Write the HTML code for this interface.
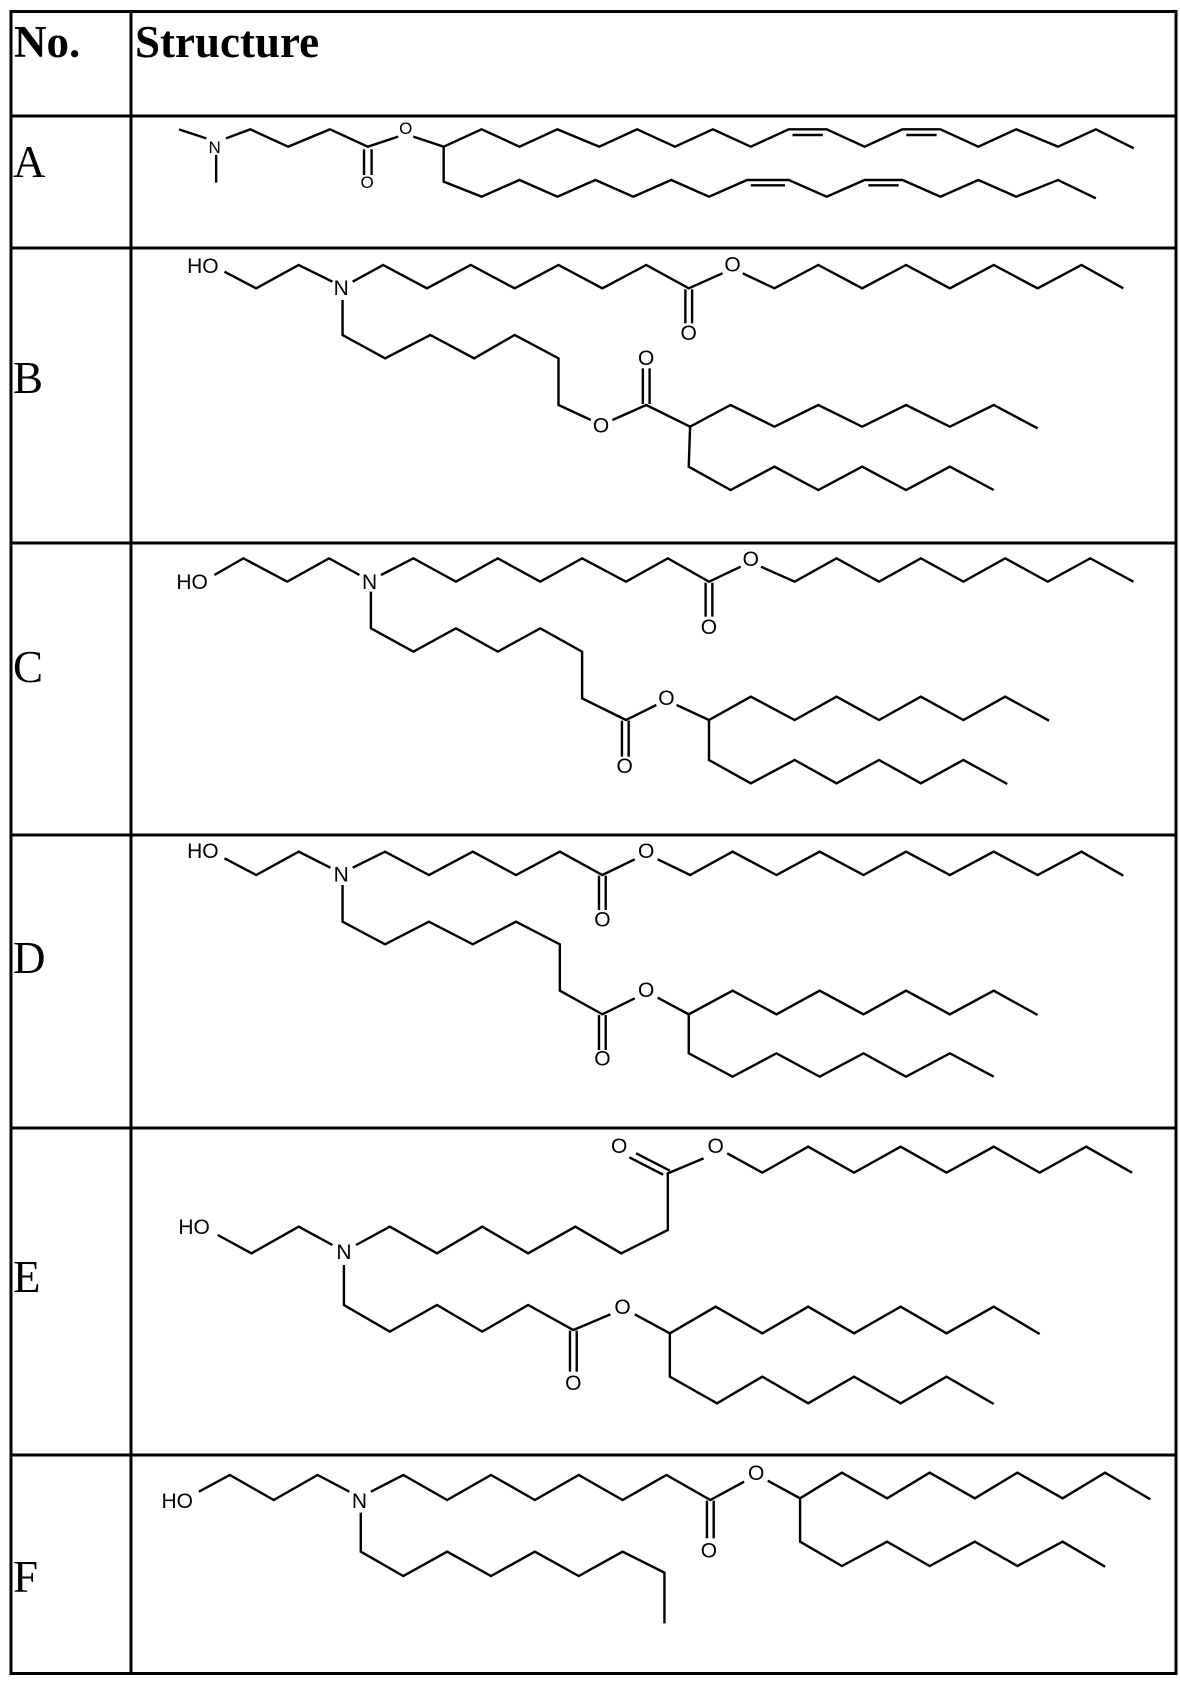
<!DOCTYPE html>
<html><head><meta charset="utf-8"><style>
html,body{margin:0;padding:0;background:#fff;}
svg{display:block;}
.b{fill:none;stroke:#000;stroke-width:2.4;vector-effect:non-scaling-stroke;stroke-linejoin:miter;}
.l{font-family:"Liberation Sans",sans-serif;font-size:21px;fill:#000;text-anchor:middle;dominant-baseline:central;}
.la{font-family:"Liberation Sans",sans-serif;font-size:17px;fill:#000;text-anchor:middle;dominant-baseline:central;}
.h{font-family:"Liberation Serif",serif;font-size:45px;font-weight:bold;fill:#000;}
.r{font-family:"Liberation Serif",serif;font-size:45px;fill:#000;}
</style></head><body>
<svg width="1180" height="1684" viewBox="0 0 1180 1684" xmlns="http://www.w3.org/2000/svg">
<rect width="1180" height="1684" fill="#fff"/>
<g stroke="#000" stroke-width="3" fill="none">
<rect x="11" y="11.5" width="1165" height="1662"/>
<line x1="131" y1="11" x2="131" y2="1674"/>
<line x1="11" y1="116" x2="1176" y2="116"/>
<line x1="11" y1="248" x2="1176" y2="248"/>
<line x1="11" y1="543" x2="1176" y2="543"/>
<line x1="11" y1="835" x2="1176" y2="835"/>
<line x1="11" y1="1128" x2="1176" y2="1128"/>
<line x1="11" y1="1455" x2="1176" y2="1455"/>
</g>
<text class="h" x="14" y="57">No.</text>
<text class="h" x="135" y="57">Structure</text>
<text class="r" x="13" y="177">A</text>
<text class="r" x="13" y="393">B</text>
<text class="r" x="13" y="682">C</text>
<text class="r" x="13" y="973">D</text>
<text class="r" x="13" y="1292">E</text>
<text class="r" x="13" y="1592">F</text>

<!-- A -->
<g transform="translate(0,0) scale(0.7584,0.33333)">
<polyline class="b" points="236,388 272,415"/>
<polyline class="b" points="285,465 285,548"/>
<polyline class="b" points="298,415 330,388 380,440 435,388 485,440 525,410"/>
<polyline class="b" points="480,448 480,525"/><polyline class="b" points="490,448 490,525"/>
<polyline class="b" points="545,410 585,440 635,388 685,440 735,388 790,440 840,388 890,440 940,388 990,440 1040,388 1090,388 1140,440 1190,388 1240,388 1290,440 1340,388 1395,440 1445,388 1495,445"/>
<polyline class="b" points="1045,405 1085,405"/><polyline class="b" points="1195,405 1235,405"/>
<polyline class="b" points="585,440 585,545 635,590 685,540 735,590 785,540 835,590 885,540 935,590 985,540 1040,540 1090,590 1140,540 1190,540 1240,590 1290,540 1340,590 1395,540 1445,595"/>
<polyline class="b" points="990,556 1035,556"/><polyline class="b" points="1145,556 1185,556"/>
<text class="la" transform="translate(283,443) scale(1.3186,3)">N</text>
<text class="la" transform="translate(535,385) scale(1.3186,3)">O</text>
<text class="la" transform="translate(484,548) scale(1.3186,3)">O</text>
</g>

<!-- B -->
<g transform="translate(130,250) scale(0.6748,0.33333)">
<polyline class="b" points="140,65 187,115 250,45 300,95"/>
<polyline class="b" points="330,95 375,45 440,115 505,45 570,115 635,45 700,115 765,45 828,115 878,70"/>
<polyline class="b" points="908,70 955,115 1020,45 1085,115 1150,45 1215,115 1280,45 1345,115 1410,45 1472,115"/>
<polyline class="b" points="823,118 823,220"/><polyline class="b" points="833,118 833,220"/>
<polyline class="b" points="315,150 315,255 378,325 445,255 510,325 570,255 635,325 635,465 683,510"/>
<polyline class="b" points="715,510 765,465 830,530 890,465 955,530 1020,465 1085,530 1150,465 1215,530 1280,465 1345,535"/>
<polyline class="b" points="760,462 760,355"/><polyline class="b" points="770,462 770,355"/>
<polyline class="b" points="830,530 828,650 890,720 955,650 1020,720 1085,650 1150,720 1215,650 1280,720"/>
<text class="l" transform="translate(108,50) scale(1.482,3)">HO</text>
<text class="l" transform="translate(313,115) scale(1.482,3)">N</text>
<text class="l" transform="translate(893,45) scale(1.482,3)">O</text>
<text class="l" transform="translate(828,250) scale(1.482,3)">O</text>
<text class="l" transform="translate(698,528) scale(1.482,3)">O</text>
<text class="l" transform="translate(765,325) scale(1.482,3)">O</text>
</g>

<!-- C -->
<g transform="translate(130,530) scale(0.6748,0.33333)">
<polyline class="b" points="125,135 168,85 233,155 295,85 340,135"/>
<polyline class="b" points="372,135 420,85 483,155 545,85 608,155 670,85 735,155 797,85 858,155 905,110"/>
<polyline class="b" points="935,110 985,155 1047,85 1110,155 1172,85 1235,155 1297,85 1360,155 1423,85 1487,155"/>
<polyline class="b" points="853,158 853,260"/><polyline class="b" points="863,158 863,260"/>
<polyline class="b" points="357,185 357,295 420,365 483,295 545,365 608,295 670,365 670,505 735,570 780,525"/>
<polyline class="b" points="810,525 858,570 920,500 985,570 1047,500 1110,570 1172,500 1235,570 1297,500 1362,572"/>
<polyline class="b" points="729,572 729,680"/><polyline class="b" points="739,572 739,680"/>
<polyline class="b" points="858,570 858,690 920,760 985,690 1047,760 1110,690 1172,760 1235,690 1300,762"/>
<text class="l" transform="translate(92,158) scale(1.482,3)">HO</text>
<text class="l" transform="translate(355,158) scale(1.482,3)">N</text>
<text class="l" transform="translate(920,88) scale(1.482,3)">O</text>
<text class="l" transform="translate(858,292) scale(1.482,3)">O</text>
<text class="l" transform="translate(795,505) scale(1.482,3)">O</text>
<text class="l" transform="translate(733,710) scale(1.482,3)">O</text>
</g>

<!-- D -->
<g transform="translate(130,825) scale(0.6748,0.33333)">
<polyline class="b" points="140,100 187,150 250,80 297,128"/>
<polyline class="b" points="330,128 378,80 443,150 508,80 572,150 637,80 700,150 748,103"/>
<polyline class="b" points="782,103 830,150 893,80 958,150 1022,80 1087,150 1150,80 1215,150 1280,80 1345,150 1410,80 1472,152"/>
<polyline class="b" points="695,152 695,255"/><polyline class="b" points="705,152 705,255"/>
<polyline class="b" points="315,180 315,290 378,358 443,290 508,358 572,290 637,358 637,497 700,568 748,520"/>
<polyline class="b" points="782,518 828,568 893,497 958,568 1022,497 1087,568 1150,497 1215,568 1280,497 1345,570"/>
<polyline class="b" points="695,570 695,675"/><polyline class="b" points="705,570 705,675"/>
<polyline class="b" points="828,568 828,685 893,755 958,685 1022,755 1087,685 1150,755 1215,685 1280,755"/>
<text class="l" transform="translate(108,80) scale(1.482,3)">HO</text>
<text class="l" transform="translate(313,150) scale(1.482,3)">N</text>
<text class="l" transform="translate(765,80) scale(1.482,3)">O</text>
<text class="l" transform="translate(700,285) scale(1.482,3)">O</text>
<text class="l" transform="translate(765,497) scale(1.482,3)">O</text>
<text class="l" transform="translate(700,702) scale(1.482,3)">O</text>
</g>

<!-- E -->
<g transform="translate(130,1120) scale(0.6748,0.33333)">
<polyline class="b" points="130,345 180,400 250,320 300,375"/>
<polyline class="b" points="335,375 385,320 455,400 522,320 590,400 660,320 728,400 797,330 797,160 850,115"/>
<polyline class="b" points="885,100 937,158 1005,80 1073,158 1142,80 1210,158 1280,80 1348,158 1417,80 1485,158"/>
<polyline class="b" points="800,152 750,100"/><polyline class="b" points="790,164 740,112"/>
<polyline class="b" points="317,435 317,555 385,635 455,555 522,635 590,555 657,630 712,583"/>
<polyline class="b" points="748,583 800,640 868,560 937,640 1005,560 1073,640 1142,560 1210,640 1280,560 1348,642"/>
<polyline class="b" points="652,632 652,755"/><polyline class="b" points="662,632 662,755"/>
<polyline class="b" points="800,640 800,770 870,850 937,770 1005,850 1073,770 1142,850 1210,770 1280,852"/>
<text class="l" transform="translate(95,322) scale(1.482,3)">HO</text>
<text class="l" transform="translate(317,398) scale(1.482,3)">N</text>
<text class="l" transform="translate(868,80) scale(1.482,3)">O</text>
<text class="l" transform="translate(725,80) scale(1.482,3)">O</text>
<text class="l" transform="translate(730,562) scale(1.482,3)">O</text>
<text class="l" transform="translate(657,790) scale(1.482,3)">O</text>
</g>

<!-- F -->
<g transform="translate(130,1420) scale(0.6748,0.33333)">
<polyline class="b" points="102,215 148,165 213,240 278,165 325,215"/>
<polyline class="b" points="357,215 405,165 470,240 535,165 600,240 665,165 730,240 795,165 860,240 910,185"/>
<polyline class="b" points="945,182 993,235 1055,158 1122,235 1185,158 1252,235 1315,158 1382,235 1445,158 1512,238"/>
<polyline class="b" points="855,242 855,355"/><polyline class="b" points="865,242 865,355"/>
<polyline class="b" points="342,278 342,395 405,468 470,395 535,468 600,395 665,468 730,395 792,458 792,610"/>
<polyline class="b" points="993,235 993,365 1055,438 1122,365 1185,438 1252,365 1315,438 1382,365 1445,440"/>
<text class="l" transform="translate(70,245) scale(1.482,3)">HO</text>
<text class="l" transform="translate(340,245) scale(1.482,3)">N</text>
<text class="l" transform="translate(928,160) scale(1.482,3)">O</text>
<text class="l" transform="translate(858,393) scale(1.482,3)">O</text>
</g>
</svg>
</body></html>
